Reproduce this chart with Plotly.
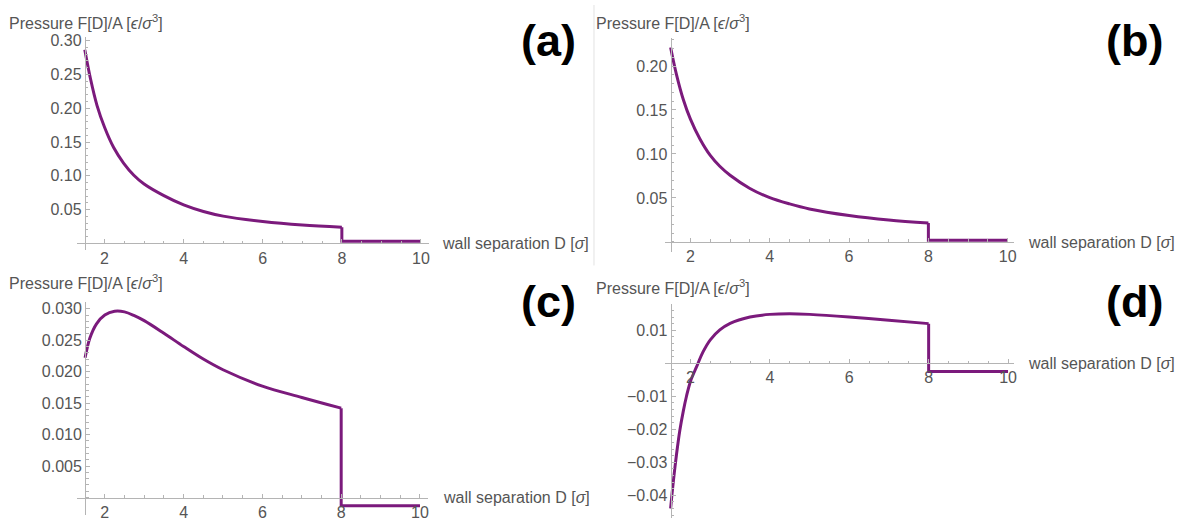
import numpy as np
import plotly.graph_objects as go

# ---- data: pressure F[D]/A versus wall separation D, four cases ----
D_a = [1.5, 1.643, 1.81, 2.0, 2.23, 2.48, 2.74, 3.0, 3.5, 4.0, 4.5, 5.0, 6.0, 7.0, 8.0]
P_a = [0.2866, 0.244, 0.2040, 0.172, 0.142, 0.1190, 0.1010, 0.0880, 0.0708, 0.0571,
       0.0474, 0.0405, 0.0325, 0.0272, 0.0239]
P_a_tail = 0.0034

D_b = [1.5, 1.65, 1.82, 2.0, 2.24, 2.5, 2.74, 3.0, 3.5, 4.0, 4.5, 5.0, 6.0, 7.0, 8.0]
P_b = [0.2211, 0.190, 0.162, 0.1396, 0.117, 0.0983, 0.086, 0.0758, 0.0608, 0.0503,
       0.0432, 0.0375, 0.030, 0.0248, 0.0214]
P_b_tail = 0.002

D_c = [1.5, 1.62, 1.79, 2.0, 2.25, 2.5, 2.75, 3.0, 3.5, 4.0, 4.5, 5.0, 6.0, 7.0, 8.0]
P_c = [0.0222, 0.0253, 0.0276, 0.0290, 0.0296, 0.0295, 0.0289, 0.0281, 0.0261, 0.0240,
       0.0220, 0.0203, 0.0177, 0.0159, 0.0142]
P_c_tail = -0.0013

D_d = [1.5, 1.567, 1.65, 1.73, 1.82, 1.9, 2.0, 2.15, 2.32, 2.5, 2.74, 3.0, 3.5, 4.0,
       4.5, 5.0, 6.0, 7.0, 8.0]
P_d = [-0.044, -0.036, -0.0275, -0.0205, -0.0145, -0.0100, -0.0055, -0.0012, 0.0035, 0.0071,
       0.0101, 0.0121, 0.0140, 0.0148, 0.0150, 0.0148, 0.0140, 0.0130, 0.0120]
P_d_tail = -0.0025

D_cut = 8.0
D_end = 10.0

x_ticks = [2, 4, 6, 8, 10]
y_ticks_a = [0.05, 0.10, 0.15, 0.20, 0.25, 0.30]
y_ticks_b = [0.05, 0.10, 0.15, 0.20]
y_ticks_c = [0.005, 0.010, 0.015, 0.020, 0.025, 0.030]
y_ticks_d = [-0.04, -0.03, -0.02, -0.01, 0.01]

panel_labels = ["(a)", "(b)", "(c)", "(d)"]
y_title = "Pressure F[D]/A [<i>ϵ</i>/<i>σ</i><sup>3</sup>]"
x_title = "wall separation D [<i>σ</i>]"

# ---- page geometry (pixels) ----
W, H = 1186, 522
FONT = "Liberation Sans, Arial, sans-serif"
TXT = "#555555"
AXC = "#b4b4b4"
PURPLE = "#7b1a7c"
FS = 16


def fx(p):
    return p / W


def fy(p):
    return 1 - p / H


# origin pixel (D=1.5, P=0), px per unit, axis ranges, tick formats
panels = [
    dict(D=D_a, P=P_a, tail=P_a_tail, ox=85.0, sx=39.65, oy=240.8, sy=682.7,
         xr=(1.3, 10.2), yr=(-0.0095, 0.305), yt=y_ticks_a, fmt=".2f", ymin=0.01,
         lab=(550, 36), yt_pos=(7, 17), xt_pos=(441, 241)),
    dict(D=D_b, P=P_b, tail=P_b_tail, ox=672.3, sx=39.76, oy=239.2, sy=888.0,
         xr=(1.36, 10.16), yr=(-0.011, 0.232), yt=y_ticks_b, fmt=".2f", ymin=0.01,
         lab=(1137, 36), yt_pos=(596, 17), xt_pos=(1029, 240)),
    dict(D=D_c, P=P_c, tail=P_c_tail, ox=85.3, sx=39.5, oy=497.3, sy=6355.0,
         xr=(1.3, 10.2), yr=(-0.0028, 0.0311), yt=y_ticks_c, fmt=".3f", ymin=0.001,
         lab=(550, 299), yt_pos=(7, 280), xt_pos=(442, 497)),
    dict(D=D_d, P=P_d, tail=P_d_tail, ox=672.3, sx=39.8, oy=361.7, sy=3333.0,
         xr=(1.36, 10.16), yr=(-0.047, 0.018), yt=y_ticks_d, fmt=".2f", ymin=0.002,
         lab=(1137, 299), yt_pos=(596, 285), xt_pos=(1029, 362)),
]

fig = go.Figure()
layout = dict(
    width=W, height=H, margin=dict(l=0, r=0, t=0, b=0),
    paper_bgcolor="white", plot_bgcolor="rgba(0,0,0,0)",
    showlegend=False, font=dict(family=FONT, color=TXT, size=FS),
)
annotations = []

for i, p in enumerate(panels, start=1):
    xa = "x" if i == 1 else f"x{i}"
    ya = "y" if i == 1 else f"y{i}"
    xkey = "xaxis" if i == 1 else f"xaxis{i}"
    ykey = "yaxis" if i == 1 else f"yaxis{i}"

    # smooth branch up to the cutoff
    fig.add_trace(go.Scatter(x=p["D"], y=p["P"], mode="lines", xaxis=xa, yaxis=ya,
                             line=dict(color=PURPLE, width=3, shape="spline", smoothing=1.0),
                             hoverinfo="skip"))
    # jump at the cutoff and flat tail
    fig.add_trace(go.Scatter(x=[D_cut, D_cut, D_end], y=[p["P"][-1], p["tail"], p["tail"]],
                             mode="lines", xaxis=xa, yaxis=ya,
                             line=dict(color=PURPLE, width=3), hoverinfo="skip"))

    x_lo = p["ox"] + (p["xr"][0] - 1.5) * p["sx"]
    x_hi = p["ox"] + (p["xr"][1] - 1.5) * p["sx"]
    y_lo = p["oy"] - p["yr"][0] * p["sy"]
    y_hi = p["oy"] - p["yr"][1] * p["sy"]

    x_minor = [v for v in np.arange(2.0, 10.01, 0.5)]
    lo = 0.0 if p["yr"][0] > -0.02 else p["yr"][0]
    step = p["ymin"]
    y_minor = [round(v, 5) for v in np.arange(np.ceil(lo / step) * step, p["yr"][1], step)]

    layout[xkey] = dict(
        domain=[fx(x_lo), fx(x_hi)], range=list(p["xr"]), anchor="free",
        position=fy(p["oy"]), side="bottom", showgrid=False, zeroline=False,
        showline=True, linecolor=AXC, linewidth=1,
        tickmode="array", tickvals=x_ticks, ticktext=[str(v) for v in x_ticks],
        ticks="inside", ticklen=4, tickcolor=AXC, tickwidth=1,
        tickfont=dict(family=FONT, size=FS, color=TXT),
        minor=dict(tickmode="array", tickvals=x_minor, ticks="inside", ticklen=2.5,
                   tickcolor=AXC, tickwidth=1, showgrid=False),
    )
    layout[ykey] = dict(
        domain=[fy(y_lo), fy(y_hi)], range=list(p["yr"]), anchor="free",
        position=fx(p["ox"]), side="left", showgrid=False, zeroline=False,
        showline=True, linecolor=AXC, linewidth=1,
        tickmode="array", tickvals=p["yt"],
        ticktext=[format(v, p["fmt"]).replace("-", "\u2212") for v in p["yt"]],
        ticks="inside", ticklen=4, tickcolor=AXC, tickwidth=1,
        tickfont=dict(family=FONT, size=FS, color=TXT),
        minor=dict(tickmode="array", tickvals=y_minor, ticks="inside", ticklen=2.5,
                   tickcolor=AXC, tickwidth=1, showgrid=False),
    )

    annotations.append(dict(text=y_title, x=fx(p["yt_pos"][0]), y=fy(p["yt_pos"][1]),
                            xref="paper", yref="paper", xanchor="left", yanchor="middle",
                            showarrow=False, font=dict(family=FONT, size=FS, color=TXT)))
    annotations.append(dict(text=x_title, x=fx(p["xt_pos"][0]), y=fy(p["xt_pos"][1]),
                            xref="paper", yref="paper", xanchor="left", yanchor="middle",
                            showarrow=False, font=dict(family=FONT, size=FS, color=TXT)))
    annotations.append(dict(text=f"<b>{panel_labels[i - 1]}</b>", x=fx(p["lab"][0]),
                            y=fy(p["lab"][1]), xref="paper", yref="paper",
                            xanchor="center", yanchor="middle", showarrow=False,
                            font=dict(family=FONT, size=45, color="black")))

layout["annotations"] = annotations
# thin divider between the two upper panels
layout["shapes"] = [dict(type="line", xref="paper", yref="paper",
                         x0=fx(595.5), x1=fx(595.5), y0=fy(0), y1=fy(263),
                         line=dict(color="#e2e2e2", width=1))]

fig.update_layout(**layout)
fig.write_html("out.html")
